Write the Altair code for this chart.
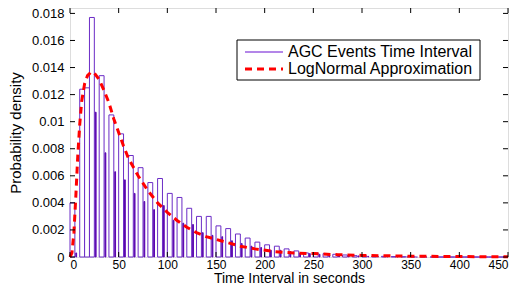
import altair as alt
import pandas as pd

# ---- data ----
bin_width = 5
bin_starts = list(range(0, 450, 5))
densities = [
    0.0040, 0.0003, 0.0124, 0.0125, 0.0177, 0.0107, 0.0134, 0.0077, 0.0105, 0.0063,
    0.0091, 0.0057, 0.0075, 0.0047, 0.0066, 0.0041, 0.0055, 0.0035, 0.0058, 0.0038,
    0.0047, 0.0027, 0.0044, 0.0025, 0.0036, 0.0024, 0.0030, 0.0018, 0.0030, 0.0016,
    0.0023, 0.0015, 0.0021, 0.0012, 0.0017, 0.0010, 0.0014, 0.0008, 0.0011, 0.0007,
    0.0009, 0.0005, 0.0008, 0.0005, 0.0006, 0.0004, 0.00045, 0.0003, 0.0003, 0.00025,
    0.0003, 0.0002, 0.00025, 0.00015, 0.0002, 0.0001, 0.00015, 0.0001, 0.0001, 0.00008,
    0.00008, 0.00005, 0.00006, 0.00004, 0.00005, 0.00003, 0.00003, 0.00002, 0.00002, 0.00001,
    0.00001, 0.0, 0.00001, 0.0, 0.0, 0.0, 0.0, 0.0, 0.0, 0.0,
    0.0, 0.0, 0.0, 0.0, 0.0, 0.0, 0.0, 0.0, 0.0, 0.0,
]

curve_x = [0, 2, 4, 6, 8, 10, 12, 15, 18, 22, 26, 30, 35, 40, 45, 50, 55, 60, 70, 80,
           90, 100, 110, 120, 130, 140, 150, 160, 175, 190, 210, 230, 250, 275, 300,
           350, 400, 450]
curve_y = [0.0, 0.0003, 0.0018, 0.0045, 0.0075, 0.0098, 0.0115, 0.0128, 0.0134, 0.0137,
           0.0135, 0.0131, 0.0123, 0.0114, 0.0102, 0.0092, 0.0082, 0.0073, 0.0060, 0.0049,
           0.0040, 0.0033, 0.0027, 0.0022, 0.0018, 0.0015, 0.0013, 0.0011, 0.0008, 0.0006,
           0.0004, 0.0003, 0.00025, 0.00017, 0.00012, 0.00006, 0.00003, 0.00002]

x_ticks = [0, 50, 100, 150, 200, 250, 300, 350, 400, 450]
y_ticks = [0, 0.002, 0.004, 0.006, 0.008, 0.010, 0.012, 0.014, 0.016, 0.018]

legend_labels = ["AGC Events Time Interval", "LogNormal Approximation"]

# ---- build tables ----
rows = []
for i, (s, d) in enumerate(zip(bin_starts, densities)):
    prev = densities[i - 1] if i > 0 else d
    narrow = (i % 2 == 1) and d < prev
    rows.append({"start": s, "end": s + bin_width, "density": d, "narrow": narrow})
hist = pd.DataFrame(rows)
curve = pd.DataFrame({"t": curve_x, "p": curve_y})
xt = pd.DataFrame({"v": x_ticks})
yt = pd.DataFrame({"v": y_ticks})
one = pd.DataFrame({"a": [0]})

W, H = 438, 249
FONT = "Liberation Sans"
xs = alt.Scale(domain=[0, 450], nice=False, zero=False, padding=0)
ys = alt.Scale(domain=[0, 0.0184], nice=False, padding=0)

ax_x = alt.Axis(values=x_ticks, tickSize=0, labelFont=FONT, labelFontSize=12,
                labelColor="black", domain=False, labelPadding=2, labelOverlap=False,
                title="Time Interval in seconds", titleFont=FONT,
                titleFontSize=14, titleFontWeight="normal", titleColor="black",
                titleY=25, titleBaseline="alphabetic", grid=False)
ax_y = alt.Axis(values=y_ticks, tickSize=0, format="~g", labelFont=FONT,
                labelFontSize=13, labelColor="black", domain=False,
                labelPadding=6, labelOverlap=False,
                title="Probability density", titleFont=FONT,
                titleFontSize=15, titleFontWeight="normal", titleColor="black",
                titleX=-55, titleY=H / 2, titleAngle=-90, titleAlign="center",
                titleBaseline="middle", grid=False)


def X(f):
    return alt.X(f, scale=xs, axis=ax_x)


def Y(f):
    return alt.Y(f, scale=ys, axis=ax_y)


wide = alt.Chart(hist).transform_filter("!datum.narrow").mark_rect(
    fill="white", stroke="#6b2cc6", strokeWidth=1
).encode(x=X("start:Q"), x2="end:Q", y=Y("density:Q"), y2=alt.datum(0))

narrow = alt.Chart(hist).transform_filter("datum.narrow").transform_calculate(
    a="datum.start + 1.0", b="datum.start + 1.8"
).mark_rect(fill="#5a06b0", stroke="#5a06b0", strokeWidth=1).encode(
    x=X("a:Q"), x2="b:Q", y=Y("density:Q"), y2=alt.datum(0),
)

line = alt.Chart(curve).mark_line(
    color="#ff0000", strokeWidth=3, strokeDash=[7, 5]
).encode(x=X("t:Q"), y=Y("p:Q"))

# inward ticks
xb = alt.Chart(xt).mark_rule(color="black").encode(
    x=X("v:Q"), y=alt.value(H), y2=alt.value(H - 5))
xtp = alt.Chart(xt).mark_rule(color="black").encode(
    x=X("v:Q"), y=alt.value(0), y2=alt.value(5))
yl = alt.Chart(yt).mark_rule(color="black").encode(
    y=Y("v:Q"), x=alt.value(0), x2=alt.value(5))
yr = alt.Chart(yt).mark_rule(color="black").encode(
    y=Y("v:Q"), x=alt.value(W), x2=alt.value(W - 5))

# legend (pixel-placed decoration)
LX0, LX1, LY0, LY1 = 167, 410, 32, 72
leg_box = alt.Chart(one).mark_rect(
    fill="white", stroke="black", strokeWidth=1
).encode(x=alt.value(LX0), x2=alt.value(LX1), y=alt.value(LY0), y2=alt.value(LY1))
leg_l1 = alt.Chart(one).mark_rule(
    color="#9a5ee0", strokeWidth=1.5
).encode(x=alt.value(LX0 + 8), x2=alt.value(LX0 + 46), y=alt.value(LY0 + 12))
leg_l2 = alt.Chart(one).mark_rule(
    color="#ff0000", strokeWidth=3, strokeDash=[7, 5]
).encode(x=alt.value(LX0 + 8), x2=alt.value(LX0 + 46), y=alt.value(LY0 + 29))
leg_t1 = alt.Chart(one).mark_text(
    align="left", baseline="middle", font=FONT, fontSize=16, color="black",
    text=legend_labels[0]
).encode(x=alt.value(LX0 + 51), y=alt.value(LY0 + 12))
leg_t2 = alt.Chart(one).mark_text(
    align="left", baseline="middle", font=FONT, fontSize=16, color="black",
    text=legend_labels[1]
).encode(x=alt.value(LX0 + 51), y=alt.value(LY0 + 29))

chart = alt.layer(
    wide, narrow, line, xb, xtp, yl, yr, leg_box, leg_l1, leg_l2, leg_t1, leg_t2
).properties(
    width=W, height=H,
    autosize=alt.AutoSizeParams(type="none"),
    padding={"left": 62, "top": 0, "right": 1, "bottom": 27},
).configure_view(stroke="black", strokeWidth=1).configure_axis(
    labelOverlap=False
).configure(background="white")

chart.save("out.html", embed_options={"renderer": "svg", "actions": False})
